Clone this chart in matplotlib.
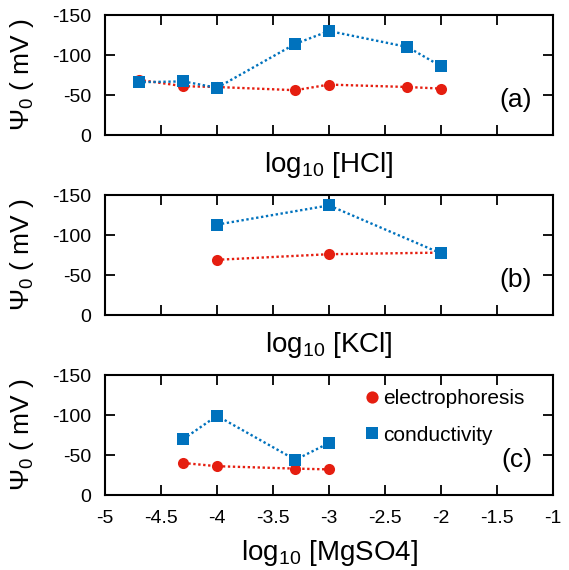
import matplotlib
matplotlib.use("Agg")
import matplotlib.pyplot as plt

plt.rcParams["font.family"] = ["Liberation Sans", "DejaVu Sans"]
plt.rcParams["mathtext.default"] = "regular"
plt.rcParams["axes.unicode_minus"] = False

RED = "#e51e10"
BLUE = "#0072bd"

# panel (a) HCl
x_hcl = [-4.7, -4.3, -4.0, -3.3, -3.0, -2.3, -2.0]
ep_hcl = [-69, -61, -60, -56, -63, -60, -58]
cd_hcl = [-66, -67, -59, -114, -130, -110, -86]

# panel (b) KCl
x_kcl = [-4.0, -3.0, -2.0]
ep_kcl = [-69, -76, -78]
cd_kcl = [-113, -137, -77]

# panel (c) MgSO4
x_mg = [-4.3, -4.0, -3.3, -3.0]
ep_mg = [-40, -36, -33, -32]
cd_mg = [-70, -99, -44, -65]

panels = [
    (x_hcl, ep_hcl, cd_hcl, "log$_{10}$ [HCl]", "(a)"),
    (x_kcl, ep_kcl, cd_kcl, "log$_{10}$ [KCl]", "(b)"),
    (x_mg, ep_mg, cd_mg, "log$_{10}$ [MgSO4]", "(c)"),
]

fig = plt.figure(figsize=(5.69, 5.70), dpi=100)
W, H = 569, 570
tops = [15, 195, 375]

for i, (x, ep, cd, xl, tag) in enumerate(panels):
    top = tops[i]
    ax = fig.add_axes([105 / W, (H - top - 120) / H, 448 / W, 120 / H])
    ax.plot(x, ep, color=RED, ls=(0, (1, 1.1)), lw=1.7)
    ax.plot(x, cd, color=BLUE, ls=(0, (1, 1.1)), lw=1.7)
    ax.plot(x, ep, color=RED, ls="none", marker="o", ms=8, mew=0,
            label="electrophoresis")
    ax.plot(x, cd, color=BLUE, ls="none", marker="s", ms=8, mew=0,
            label="conductivity")

    ax.set_xlim(-5, -1)
    ax.set_ylim(0, -150)
    ax.set_xticks([-5, -4.5, -4, -3.5, -3, -2.5, -2, -1.5, -1])
    ax.set_xticklabels(["-5", "-4.5", "-4", "-3.5", "-3", "-2.5", "-2", "-1.5", "-1"])
    ax.set_yticks([0, -50, -100, -150])
    ax.tick_params(direction="in", top=True, right=True, length=7, width=1.3,
                   labelsize=14)
    ax.tick_params(axis="x", pad=11)
    ax.tick_params(axis="y", pad=10)
    if i < 2:
        ax.tick_params(labelbottom=False)
    for s in ax.spines.values():
        s.set_linewidth(1.5)

    ax.set_ylabel("Ψ$_0$ ( mV )", fontsize=19)
    ax.yaxis.set_label_coords(-0.155, 0.5)
    ax.set_xlabel(xl, fontsize=20)
    if i < 2:
        ax.xaxis.set_label_coords(0.5, -0.125)
    else:
        ax.xaxis.set_label_coords(0.5, -0.36)
    ax.text(0.953, 0.29, tag, transform=ax.transAxes, ha="right", va="center",
            fontsize=19)

    if i == 2:
        ax.legend(loc="upper left", bbox_to_anchor=(0.587, 0.885), frameon=False,
                  fontsize=15, handlelength=0.4, handletextpad=0.33,
                  labelspacing=0.85, borderaxespad=0, borderpad=0,
                  markerscale=1.1)

fig.savefig("out.png", dpi=100)
